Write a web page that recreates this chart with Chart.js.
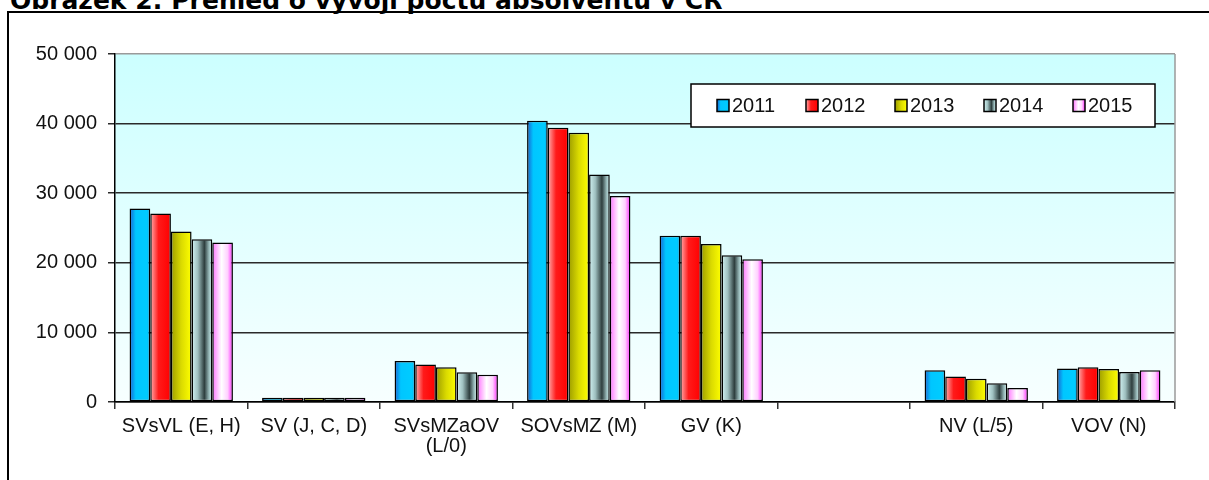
<!DOCTYPE html>
<html>
<head>
<meta charset="utf-8">
<script src="https://cdn.jsdelivr.net/npm/chart.js@4.4.1/dist/chart.umd.min.js"></script>
<style>
  html, body { margin: 0; padding: 0; background: #fff; overflow: hidden; }
  #wrap { position: relative; width: 1209px; height: 480px; }
  #title {
    position: absolute; left: 10px; top: -12px; white-space: nowrap;
    font: bold 25px "DejaVu Sans", Verdana, sans-serif; line-height: 25px; color: #000;
  }
  #frame {
    position: absolute; left: 7px; top: 11px; width: 1300px; height: 600px;
    border-left: 2px solid #000; border-top: 2px solid #000;
  }
  #chart { position: absolute; left: 0; top: 0; }
</style>
</head>
<body>
<div id="wrap">
  <div id="title">Obrázek 2: Přehled o vývoji počtu absolventů v ČR</div>
  <div id="frame"></div>
  <canvas id="chart" width="1209" height="480"></canvas>
</div>
<script>
// kategorie (osa x)
const categories = ['SVsVL (E, H)', 'SV (J, C, D)', ['SVsMZaOV', '(L/0)'], 'SOVsMZ (M)', 'GV (K)', '', 'NV (L/5)', 'VOV (N)'];
const years = ['2011', '2012', '2013', '2014', '2015'];

// počty absolventů podle roku
const v2011 = [27800, 600, 5900, 40400, 23900, null, 4550, 4800];
const v2012 = [27100, 600, 5400, 39400, 23900, null, 3650, 5000];
const v2013 = [24500, 600, 5000, 38700, 22700, null, 3350, 4750];
const v2014 = [23400, 600, 4270, 32700, 21100, null, 2700, 4300];
const v2015 = [22900, 600, 3900, 29600, 20500, null, 2000, 4550];

const yTicks = [0, 10000, 20000, 30000, 40000, 50000];

// barevné přechody sloupců (zleva doprava)
const barStops = [
  [[0, '#1a5fd0'], [0.3, '#00c6ff'], [0.85, '#00ccff'], [1, '#0099dd']],
  [[0, '#ffb0b0'], [0.4, '#ff1a1a'], [1, '#ff0000']],
  [[0, '#9c9c00'], [0.5, '#dada00'], [1, '#ffff00']],
  [[0, '#d4f4f4'], [0.3, '#9fc0c0'], [0.62, '#2e3e3e'], [0.85, '#9abcbc'], [1, '#d0f0f0']],
  [[0, '#ff70ff'], [0.45, '#ffffff'], [0.75, '#ffd0ff'], [1, '#ff22ff']]
];
const solid = ['#00ccff', '#ff0000', '#e0e000', '#5a7070', '#ffccff'];

const CAT_PCT = 0.78;
const FONT = '"Liberation Sans", Arial, sans-serif';

function makeGrad(ctx, stops, x0, x1) {
  const g = ctx.createLinearGradient(x0, 0, x1, 0);
  stops.forEach(([o, c]) => g.addColorStop(o, c));
  return g;
}

function barFill(context) {
  const chart = context.chart;
  const ds = context.datasetIndex;
  const xs = chart.scales.x;
  if (!chart.chartArea || !xs || context.dataIndex === undefined) return solid[ds];
  const catW = xs.width / categories.length;
  const groupW = catW * CAT_PCT;
  const barW = groupW / years.length;
  const left = xs.getPixelForValue(context.dataIndex) - groupW / 2 + ds * barW;
  return makeGrad(chart.ctx, barStops[ds], left, left + barW);
}

const fmt = v => String(v).replace(/\B(?=(\d{3})+(?!\d))/g, ' ');

// pozadí plochy grafu + pravý okraj
const plotBg = {
  id: 'plotBg',
  beforeDraw(chart) {
    const { ctx, chartArea: a } = chart;
    const g = ctx.createLinearGradient(0, a.top, 0, a.bottom);
    g.addColorStop(0, '#ccffff');
    g.addColorStop(1, '#f7ffff');
    ctx.save();
    ctx.fillStyle = g;
    ctx.fillRect(a.left, a.top, a.right - a.left, a.bottom - a.top);
    ctx.restore();
  },
  afterDraw(chart) {
    const { ctx, chartArea: a } = chart;
    ctx.save();
    ctx.strokeStyle = '#9a9a9a';
    ctx.lineWidth = 1.5;
    ctx.beginPath();
    ctx.moveTo(a.right, a.top);
    ctx.lineTo(a.right, a.bottom);
    ctx.stroke();
    ctx.restore();
  }
};

// legenda v rámečku uvnitř plochy
const boxLegend = {
  id: 'boxLegend',
  afterDraw(chart) {
    const ctx = chart.ctx;
    const bx = 691, by = 84, bw = 464, bh = 43;
    ctx.save();
    ctx.fillStyle = '#fff';
    ctx.fillRect(bx, by, bw, bh);
    ctx.strokeStyle = '#000';
    ctx.lineWidth = 1.5;
    ctx.strokeRect(bx, by, bw, bh);
    ctx.font = '20px ' + FONT;
    ctx.textBaseline = 'middle';
    years.forEach((y, i) => {
      const x = 717 + i * 89;
      const cy = by + bh / 2;
      ctx.fillStyle = makeGrad(ctx, barStops[i], x, x + 12);
      ctx.fillRect(x, cy - 6, 12, 12);
      ctx.strokeStyle = '#000';
      ctx.lineWidth = 1.5;
      ctx.strokeRect(x, cy - 6, 12, 12);
      ctx.fillStyle = '#111';
      ctx.fillText(y, x + 15, cy + 1);
    });
    ctx.restore();
  }
};

const series = [v2011, v2012, v2013, v2014, v2015];

new Chart(document.getElementById('chart'), {
  type: 'bar',
  data: {
    labels: categories,
    datasets: years.map((y, i) => ({
      label: y,
      data: series[i],
      backgroundColor: barFill,
      borderColor: '#000',
      borderWidth: 1.5,
      borderSkipped: false,
      barPercentage: 1,
      categoryPercentage: CAT_PCT
    }))
  },
  options: {
    responsive: false,
    animation: false,
    devicePixelRatio: 1,
    layout: { padding: { top: 54, right: 34, left: 0, bottom: 0 } },
    plugins: {
      legend: { display: false },
      title: { display: false },
      tooltip: { enabled: false }
    },
    scales: {
      x: {
        offset: true,
        grid: { offset: true, drawOnChartArea: false, drawTicks: true, tickLength: 7, color: '#333', lineWidth: 1.5 },
        border: { color: '#000', width: 1.5 },
        ticks: {
          autoSkip: false, maxRotation: 0, minRotation: 0, padding: 7,
          color: '#111',
          font: { family: FONT, size: 20, lineHeight: 1.0 }
        },
        afterFit: s => { s.height = 78; }
      },
      y: {
        min: 0, max: 50000,
        afterBuildTicks: s => { s.ticks = yTicks.map(v => ({ value: v })); },
        grid: {
          color: c => (c.tick && c.tick.value === 50000 ? '#9a9a9a' : '#2a2a2a'),
          tickColor: '#2a2a2a',
          lineWidth: 1.5, tickLength: 7
        },
        border: { color: '#000', width: 1.5 },
        ticks: {
          padding: 11, color: '#111',
          font: { family: FONT, size: 20 },
          callback: v => fmt(v)
        },
        afterFit: s => { s.width = 115; }
      }
    }
  },
  plugins: [plotBg, boxLegend]
});
</script>
</body>
</html>
